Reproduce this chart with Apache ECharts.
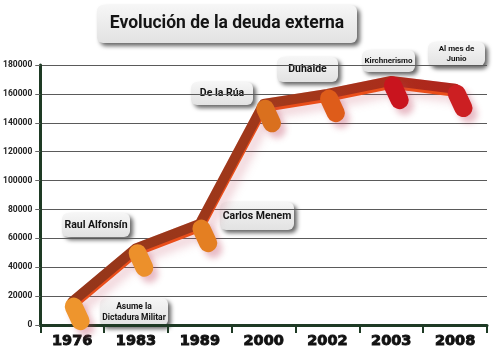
<!DOCTYPE html>
<html><head><meta charset="utf-8">
<script src="https://cdn.jsdelivr.net/npm/echarts@6/dist/echarts.min.js"></script>
<style>html,body{margin:0;padding:0;background:#fff}#c{width:500px;height:358px}</style>
</head><body><div id="c"></div>
<script>
const categories = ['1976','1983','1989','2000','2002','2003','2008'];
const deuda = [16000, 53000, 70000, 153000, 160000, 169000, 163500];
const yTicks = {min: 0, max: 180000, interval: 20000};
const markerColors = ['#ee952d','#ec902b','#e47f22','#da701e','#de5c1a','#c9141e','#cc1f22'];
const notas = [
  {lines:['Raul Alfonsín'], x:62, y:213, w:68, h:24, fs:10.5},
  {lines:['Asume la','Dictadura Militar'], x:100, y:298, w:68, h:28, fs:8.5},
  {lines:['Carlos Menem'], x:220, y:202, w:74, h:28, fs:10.5},
  {lines:['De la Rúa'], x:191, y:82, w:62, h:23, fs:10.5},
  {lines:['Duhalde'], x:277, y:57, w:61, h:25, fs:10.5},
  {lines:['Kirchnerismo'], x:362, y:50, w:53, h:22, fs:8},
  {lines:['Al mes de','Junio'], x:428, y:42, w:57, h:24, fs:8}
];
const titulo = 'Evolución de la deuda externa';

function box(x,y,w,h,text,fs,lh){
  return {type:'group', z:50, children:[
    {type:'rect', shape:{x:x,y:y,width:w,height:h,r:6},
     style:{fill:{type:'linear',x:0,y:0,x2:0,y2:1,colorStops:[{offset:0,color:'#f6f6f6'},{offset:1,color:'#e2e2e2'}]},
       shadowColor:'rgba(0,0,0,0.6)', shadowBlur:4, shadowOffsetX:3, shadowOffsetY:3}},
    {type:'text', x:x+w/2, y:y+h/2, style:{text:text, fill:'#141414', font:'bold '+fs+'px Roboto',
      align:'center', verticalAlign:'middle', lineHeight:lh||fs*1.25}}
  ]};
}

const graphics = [box(97,5,260,38,titulo,17.5)];
notas.forEach(n=>graphics.push(box(n.x,n.y,n.w,n.h,n.lines.join('\n'),n.fs,n.fs*1.3)));

const chart = echarts.init(document.getElementById('c'), null, {renderer:'canvas'});
chart.setOption({
  backgroundColor:'#ffffff',
  animation:false,
  grid:{left:40, right:13, top:65, bottom:33, containLabel:false},
  xAxis:{type:'category', data:categories, boundaryGap:true,
    axisLine:{lineStyle:{color:'#1e3a24', width:3}},
    axisTick:{show:true, length:8, lineStyle:{color:'#1e3a24', width:2}},
    axisLabel:{color:'#111', fontFamily:'DejaVu Sans', fontWeight:'bold', fontSize:14.5, margin:9,
      textBorderColor:'#111', textBorderWidth:0.9},
    splitLine:{show:false}},
  yAxis:{type:'value', min:yTicks.min, max:yTicks.max, interval:yTicks.interval,
    axisLine:{show:true, lineStyle:{color:'#1e3a24', width:3}},
    axisTick:{show:true, length:5, lineStyle:{color:'#666', width:1}},
    axisLabel:{color:'#222', fontFamily:'Roboto', fontWeight:'bold', fontSize:8.5, margin:8,
      formatter:v=>String(v)},
    splitLine:{show:true, lineStyle:{color:'#5a5a5a', width:1}}},
  series:[
    {type:'line', data:deuda, symbol:'none', z:2, silent:true,
      lineStyle:{color:'rgba(230,160,170,0.6)', width:10, shadowColor:'rgba(200,90,110,0.45)', shadowBlur:10, shadowOffsetX:6, shadowOffsetY:9}},
    {type:'line', data:deuda, symbol:'none', z:3, silent:true,
      lineStyle:{width:10, cap:'round', join:'round',
        color:{type:'linear',x:0,y:0,x2:1,y2:0,colorStops:[{offset:0,color:'#94361a'},{offset:0.6,color:'#a3381a'},{offset:1,color:'#b0241c'}]},
        shadowColor:'#ea4e1a', shadowBlur:0, shadowOffsetX:0, shadowOffsetY:3}},
    {type:'scatter', z:5, silent:true,
      symbol:'path://M0,9 A9,9 0 0 1 18,9 L18,25 A9,9 0 0 1 0,25 Z',
      symbolSize:[18,34], symbolRotate:25, symbolOffset:[5,12],
      data:deuda.map((v,i)=>({value:v, itemStyle:{color:markerColors[i]}})),
      itemStyle:{opacity:1, shadowColor:'rgba(190,60,90,0.35)', shadowBlur:6, shadowOffsetX:5, shadowOffsetY:6}}
  ],
  graphic:graphics
});
</script></body></html>
